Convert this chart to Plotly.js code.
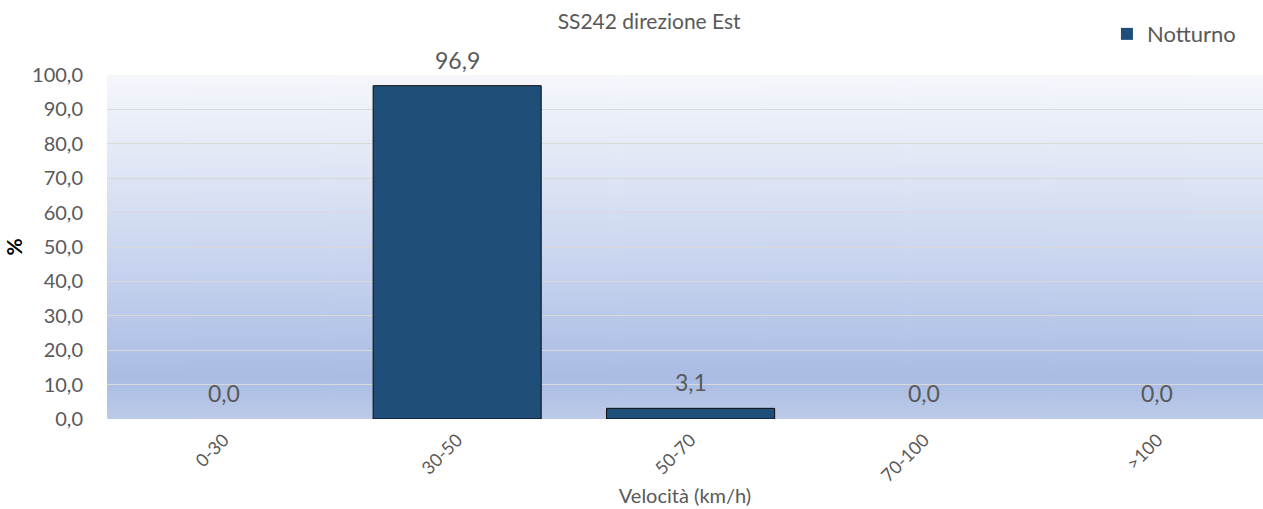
<!DOCTYPE html>
<html>
<head>
<meta charset="utf-8">
<script src="https://cdn.plot.ly/plotly-3.0.1.min.js"></script>
<style>html,body{margin:0;padding:0;background:#fff;}#chart{width:1263px;height:509px;}</style>
</head>
<body>
<div id="chart"></div>
<script>
const categories = ['0-30', '30-50', '50-70', '70-100', '>100'];
const values = [0.0, 96.9, 3.1, 0.0, 0.0];
const seriesName = 'Notturno';
const yTicks = [0, 10, 20, 30, 40, 50, 60, 70, 80, 90, 100];

function fmt(v){ return v.toFixed(1).replace('.', ','); }

// gradient background image
const cv = document.createElement('canvas');
cv.width = 8; cv.height = 344;
const ctx = cv.getContext('2d');
const g = ctx.createLinearGradient(0, 0, 0, 344);
g.addColorStop(0, '#f5f7fc');
g.addColorStop(0.35, '#d9e1f3');
g.addColorStop(0.65, '#bfcdec');
g.addColorStop(0.88, '#a9bce3');
g.addColorStop(1, '#bdcbe9');
ctx.fillStyle = g; ctx.fillRect(0, 0, 8, 344);
const bg = cv.toDataURL();

const FONT = 'Lato, "Open Sans", sans-serif';
const GREY = '#595959';

const trace = {
  type: 'bar',
  x: categories,
  y: values,
  name: seriesName,
  marker: {color: '#1f4e79', line: {color: '#0d0d0d', width: values.map(v => v > 0 ? 1 : 0)}},
  showlegend: true,
  hoverinfo: 'none'
};

const annotations = categories.map((c, i) => ({
  x: c, y: values[i], xref: 'x', yref: 'y',
  text: fmt(values[i]), showarrow: false,
  yanchor: 'bottom', yshift: 10,
  font: {family: FONT, size: 23, color: GREY}
}));

const layout = {
  width: 1263, height: 509,
  margin: {l: 107, r: 0, t: 75, b: 90},
  paper_bgcolor: '#ffffff',
  plot_bgcolor: 'rgba(0,0,0,0)',
  separators: ',.',
  bargap: 0.28,
  title: {text: 'SS242 direzione Est', x: 0.469, xref: 'paper', xanchor: 'center', y: 0.957, yanchor: 'middle',
          font: {family: FONT, size: 21, color: GREY}},
  images: [{source: bg, xref: 'paper', yref: 'paper', x: 0, y: 1, sizex: 1, sizey: 1,
            sizing: 'stretch', xanchor: 'left', yanchor: 'top', layer: 'below'}],
  xaxis: {
    type: 'category', range: [-0.5, 4.452],
    tickangle: -45, tickfont: {family: FONT, size: 18, color: GREY},
    ticklabelstandoff: 6,
    showgrid: false, zeroline: false, showline: false, ticks: '',
    title: {text: 'Velocità (km/h)', font: {family: FONT, size: 20, color: GREY}, standoff: 4}
  },
  yaxis: {
    range: [0, 100], tickvals: yTicks, tickformat: '.1f',
    tickfont: {family: FONT, size: 20, color: GREY},
    gridcolor: '#d9d9d9', gridwidth: 1, zeroline: false, showline: false, ticks: '',
    ticklabelstandoff: 23,
    title: {text: '<b>%</b>', font: {family: FONT, size: 21, color: '#000'}, standoff: 3}
  },
  legend: {x: 0.865, y: 1.18, xanchor: 'left', yanchor: 'top', bgcolor: 'rgba(0,0,0,0)',
           font: {family: FONT, size: 22, color: GREY}, itemwidth: 30},
  annotations: annotations
};

Plotly.newPlot('chart', [trace], layout, {displayModeBar: false, staticPlot: true});
</script>
</body>
</html>
